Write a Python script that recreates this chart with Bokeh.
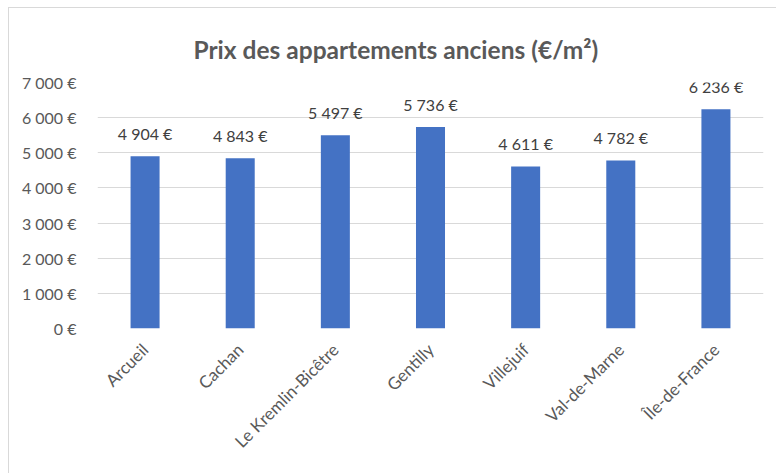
from bokeh.plotting import figure
from bokeh.models import ColumnDataSource, LabelSet, FixedTicker, FactorRange
from bokeh.core.properties import value
from bokeh.embed import file_html
from bokeh.resources import INLINE

title = "Prix des appartements anciens (€/m²)"
communes = ["Arcueil", "Cachan", "Le Kremlin-Bicêtre", "Gentilly", "Villejuif", "Val-de-Marne", "Île-de-France"]
prix = [4904, 4843, 5497, 5736, 4611, 4782, 6236]
y_ticks = [0, 1000, 2000, 3000, 4000, 5000, 6000, 7000]


def fmt(v):
    return f"{v:,}".replace(",", " ") + " €"


FONT = "Lato"

src = ColumnDataSource(dict(x=communes, top=prix, lab=[fmt(v) for v in prix]))

p = figure(width=768, height=466, x_range=FactorRange(*communes), y_range=(0, 7000),
           output_backend="svg", toolbar_location=None,
           min_border_left=88, min_border_right=14, min_border_top=74, min_border_bottom=146)
p.margin = (7, 0, 0, 8)
p.styles = {"border-top": "1px solid #d9d9d9", "border-left": "1px solid #d9d9d9"}
p.outline_line_color = None
p.background_fill_color = "white"
p.border_fill_color = "white"

p.vbar(x="x", top="top", width=0.305, source=src, fill_color="#4472C4", line_color=None)

p.add_layout(LabelSet(x="x", y="top", text="lab", source=src, text_align="center",
                      text_baseline="bottom", y_offset=13, text_font=value(FONT),
                      text_font_size="16px", text_color="#404040"))

p.yaxis.ticker = FixedTicker(ticks=y_ticks)
p.yaxis.major_label_overrides = {t: fmt(t) for t in y_ticks}
for ax in (p.xaxis, p.yaxis):
    ax.axis_line_color = None
    ax.major_tick_line_color = None
    ax.minor_tick_line_color = None
    ax.major_label_text_font = FONT
    ax.major_label_text_color = "#595959"
p.yaxis.major_label_text_font_size = "16px"
p.xaxis.major_label_text_font_size = "17px"
p.yaxis.major_label_standoff = 15
p.xaxis.major_label_orientation = 0.785398
p.xaxis.major_label_standoff = 12
p.xgrid.grid_line_color = None
p.ygrid.grid_line_color = "#d9d9d9"
p.ygrid.grid_line_width = 1

p.title.text = title
p.title.align = "left"
p.title.offset = 96
p.title.standoff = 37
p.title.text_font = FONT
p.title.text_font_style = "bold"
p.title.text_font_size = "24.5px"
p.title.text_color = "#595959"

open("out.html", "w").write(file_html(p, INLINE))
